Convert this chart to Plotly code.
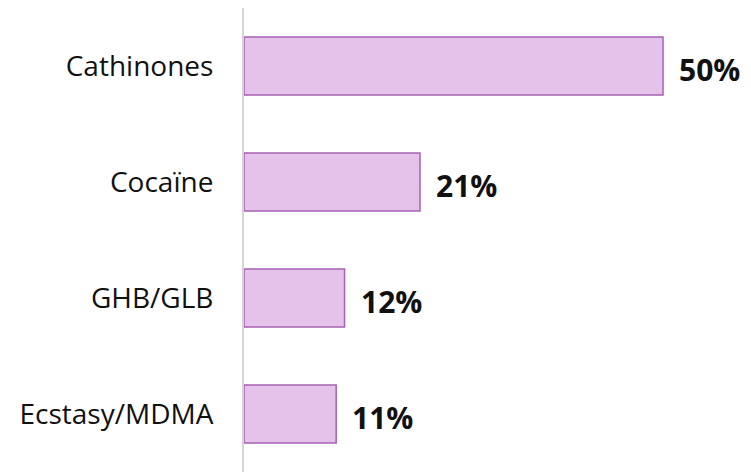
import plotly.graph_objects as go

categories = ["Cathinones", "Cocaïne", "GHB/GLB", "Ecstasy/MDMA"]
values = [50, 21, 12, 11]
labels = ["50%", "21%", "12%", "11%"]

fig = go.Figure()
fig.add_trace(go.Bar(
    x=values, y=categories, orientation="h",
    marker=dict(color="#e5c2ea", line=dict(color="#a662b4", width=1.5)),
    width=0.5, hoverinfo="skip",
))
for c, v, t in zip(categories, values, labels):
    fig.add_annotation(x=v, y=c, text="<b>" + t + "</b>", showarrow=False,
                       xanchor="left", xshift=14, yshift=-3,
                       font=dict(family="Open Sans", size=30, color="#111111"))

fig.update_layout(
    width=751, height=473,
    margin=dict(l=236, r=10, t=0, b=9),
    paper_bgcolor="white", plot_bgcolor="white",
    showlegend=False,
    xaxis=dict(range=[0, 60.26], visible=False),
    yaxis=dict(categoryorder="array", categoryarray=categories[::-1],
               showline=True, linecolor="#d6d6d6", linewidth=2,
               ticks="", ticklabelstandoff=23,
               tickfont=dict(family="Open Sans", size=28, color="#111111"),
               showgrid=False),
)
fig.write_html("out.html")
